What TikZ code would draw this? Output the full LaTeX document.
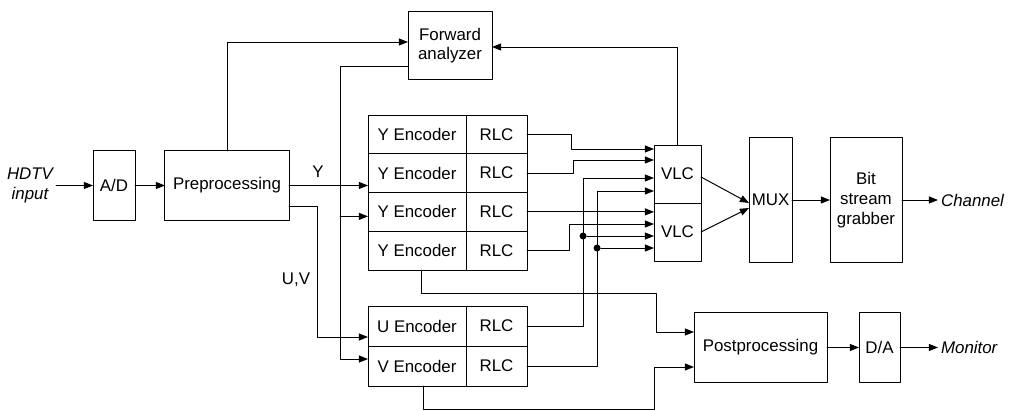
\documentclass[tikz,border=0pt]{standalone}
\usepackage{fontspec}
\setmainfont{Liberation Sans}
\usetikzlibrary{arrows.meta, calc, positioning}
\newcommand\figfont{\fontsize{12}{14}\selectfont}
\tikzset{
  >={Triangle[length=6.5pt, width=5pt]},
  every picture/.style={line cap=round, line join=round},
  blk/.style={draw, line width=0.7pt, inner sep=0pt, outer sep=0pt, align=center},
  enc/.style={blk, minimum width=2.45cm, minimum height=0.969cm},
  rlc/.style={blk, minimum width=1.525cm, minimum height=0.969cm},
  uvenc/.style={enc, minimum height=1cm},
  uvrlc/.style={rlc, minimum height=1cm},
  sig/.style={line width=0.7pt, ->},
  jdot/.style={circle, fill, inner sep=0pt, minimum size=5pt},
  lbl/.style={inner sep=2pt},
  ital/.style={lbl, align=center, font=\figfont\itshape},
}

\begin{document}
\begin{tikzpicture}[x=0.025cm, y=-0.025cm, font=\figfont]
  \useasboundingbox (0,0) rectangle (1012,411);
  % blocks
  \node[ital] (hdtv) at (30,185.5) {HDTV\\input};
  \node[blk, minimum width=1.05cm, minimum height=1.725cm] (ad) at (114,185.5) {A/D};
  \node[blk, minimum width=3.1cm, minimum height=1.725cm] (pre) at (227,185.5) {Preprocessing};
  \node[blk, minimum width=2.1cm, minimum height=1.675cm] (fwd) at (450,45.5) {Forward\\analyzer};
  \foreach \i in {1,...,4}
    \node[enc, anchor=north west] (ye\i) at (368,{115+38.75*(\i-1)}) {Y Encoder};
  \foreach \i in {1,...,4}
    \node[rlc, right=0pt of ye\i] (yr\i) {RLC};
  \node[uvenc, anchor=north west] (ue) at (368,306) {U Encoder};
  \node[uvrlc, right=0pt of ue] (ur) {RLC};
  \node[uvenc, below=0pt of ue] (ve) {V Encoder};
  \node[uvrlc, right=0pt of ve] (vr) {RLC};
  \node[blk, minimum width=1.175cm, minimum height=1.45cm, anchor=north west] (vlc1) at (654,145) {VLC};
  \node[blk, minimum width=1.175cm, minimum height=1.45cm, below=0pt of vlc1] (vlc2) {VLC};
  \node[blk, minimum width=1.075cm, minimum height=3.1cm] (mux) at (770.5,200) {MUX};
  \node[blk, minimum width=1.8cm, minimum height=3.1cm] (bsg) at (866,200) {Bit\\stream\\grabber};
  \node[blk, minimum width=3.325cm, minimum height=1.725cm] (post) at (760.5,347.5) {Postprocessing};
  \node[blk, minimum width=1.025cm, minimum height=1.725cm] (da) at (879.5,347.5) {D/A};
  \node[ital, anchor=west] (chan) at (938,200) {Channel};
  \node[ital, anchor=west] (mon) at (938,347.5) {Monitor};
  \node[lbl] (ylab) at (318,172) {Y};
  \node[lbl] (uvlab) at (296,280) {U,V};

  % main chain
  \draw[sig] (hdtv.east) -- (ad.west);
  \draw[sig] (ad) -- (pre);
  \draw[sig] (pre.east) -- (pre.east -| ye2.west);
  \draw[sig] ($(pre.east)+(0,21)$) -| ($(ue.west)+(-51,11)$) -- ($(ue.west)+(0,11)$);
  \draw[sig] (pre.north) |- ($(fwd.west)+(0,-3.5)$);
  \draw[sig] (vlc1.north) |- ($(fwd.east)+(0,1.5)$);
  \coordinate (fa) at ($(fwd.west)+(0,20.5)$);
  \draw[sig] (fa) -| ($(ve.west)+(-28,-7)$) -- ($(ve.west)+(0,-7)$);
  \draw[sig] ($(ye3.west)+(-28,4.5)$) -- ($(ye3.west)+(0,4.5)$);

  % RLC -> VLC inputs
  \foreach \n/\d in {v1a/4, v1b/15, v1c/33, v1d/46}
    \coordinate (\n) at ($(vlc1.north west)+(0,\d)$);
  \foreach \n/\d in {v2a/9, v2b/21, v2c/33, v2d/45}
    \coordinate (\n) at ($(vlc2.north west)+(0,\d)$);
  \draw[sig] (yr1.east) -- ++(44,0) |- (v1a);
  \draw[sig] (yr2.east) -- ++(46,0) |- (v1b);
  \draw[sig] (yr3.east) -- (yr3.east -| v2a);
  \draw[sig] (yr4.east) -- ++(42,0) |- (v2b);
  \draw[sig] (ur.east) -- ++(56,0) coordinate (ub) |- (v1c);
  \draw[sig] (vr.east) -- ++(70,0) coordinate (vb) |- (v1d);
  \node[jdot] (j1) at (ub |- v2c) {};
  \node[jdot] (j2) at (vb |- v2d) {};
  \draw[sig] (j1) -- (v2c);
  \draw[sig] (j2) -- (v2d);

  \draw[sig] ($(vlc1.east)+(0,3)$) -- ($(mux.west)+(0,3)$);
  \draw[sig] (vlc2.east) -- ($(mux.west)+(0,8)$);
  \draw[sig] (mux) -- (bsg);
  \draw[sig] (bsg) -- (chan);

  % decoded loop
  \coordinate (pin1) at ($(post.west)+(0,-15.5)$);
  \coordinate (pin2) at ($(post.west)+(0,19.5)$);
  \draw[sig] ($(ye4.south)+(4,0)$) -- ++(0,23) -| ($(pin1)+(-37,0)$) -- (pin1);
  \draw[sig] ($(ve.south)+(6,0)$) -- ++(0,23) -| ($(pin2)+(-39,0)$) -- (pin2);
  \draw[sig] (post) -- (da);
  \draw[sig] (da) -- (mon);
\end{tikzpicture}
\end{document}
